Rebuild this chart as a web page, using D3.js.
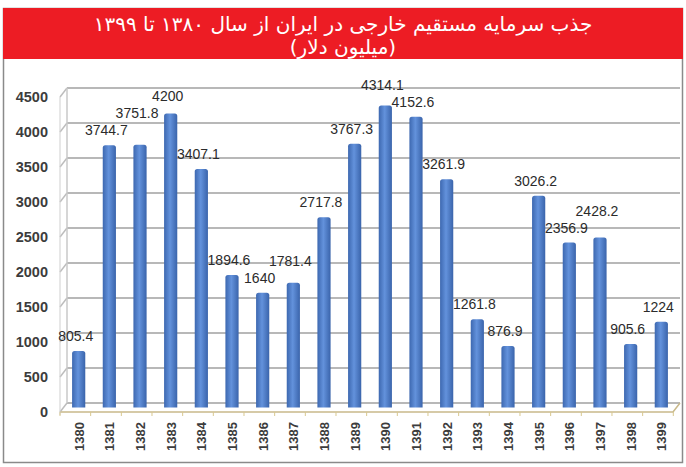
<!DOCTYPE html>
<html>
<head>
<meta charset="utf-8">
<script src="https://d3js.org/d3.v7.min.js"></script>
<style>
  body { margin: 0; background: #fff; }
  svg { display: block; }
</style>
</head>
<body>
<svg width="686" height="467"></svg>
<script>
var years = ["1380","1381","1382","1383","1384","1385","1386","1387","1388","1389",
             "1390","1391","1392","1393","1394","1395","1396","1397","1398","1399"]
var values = [805.4, 3744.7, 3751.8, 4200, 3407.1, 1894.6, 1640, 1781.4, 2717.8, 3767.3,
              4314.1, 4152.6, 3261.9, 1261.8, 876.9, 3026.2, 2356.9, 2428.2, 905.6, 1224]
var yTicks = [0, 500, 1000, 1500, 2000, 2500, 3000, 3500, 4000, 4500]
var title1 = "جذب سرمایه مستقیم خارجی در ایران از سال ۱۳۸۰ تا ۱۳۹۹"
var title2 = "(میلیون دلار)"

var svg = d3.select('svg')

// depth offset of the 3D look
var dx = 7, dy = 9

// back wall scales
var x = d3.scaleBand().domain(years).range([67, 680]).paddingInner(0.57).paddingOuter(0.28)
var y = d3.scaleLinear().domain([0, 4500]).range([403, 88])

// bar gradient (cylinder-ish)
var defs = svg.append('defs')
var grad = defs.append('linearGradient').attr('id', 'barGrad')
  .attr('x1', '0%').attr('x2', '100%').attr('y1', '0%').attr('y2', '0%')
grad.append('stop').attr('offset', '0%').attr('stop-color', '#3d68b0')
grad.append('stop').attr('offset', '45%').attr('stop-color', '#6392dc')
grad.append('stop').attr('offset', '100%').attr('stop-color', '#3a64ab')

// frame
svg.append('rect')
  .attr('x', 3.5).attr('y', 8.5).attr('width', 679).attr('height', 454)
  .attr('fill', '#fff').attr('stroke', '#8a8a8a').attr('stroke-width', 1.5)

// red title banner
svg.append('rect')
  .attr('x', 3).attr('y', 8).attr('width', 680).attr('height', 51)
  .attr('fill', '#ed1c24')

svg.append('text')
  .attr('x', 343).attr('y', 31)
  .attr('text-anchor', 'middle')
  .attr('direction', 'rtl')
  .style('font-family', '"DejaVu Sans", sans-serif')
  .style('font-size', '20px')
  .attr('fill', '#fff')
  .text(title1)

svg.append('text')
  .attr('x', 343).attr('y', 54)
  .attr('text-anchor', 'middle')
  .attr('direction', 'rtl')
  .style('font-family', '"DejaVu Sans", sans-serif')
  .style('font-size', '20px')
  .attr('fill', '#fff')
  .text(title2)

// gridlines on back wall plus side wall diagonals
var grid = svg.append('g')
grid.selectAll('line.h').data(yTicks).join('line')
  .attr('x1', 67).attr('x2', 680)
  .attr('y1', d => y(d)).attr('y2', d => y(d))
  .attr('stroke', '#b8b8b8').attr('stroke-width', 2)
grid.selectAll('line.d').data(yTicks).join('line')
  .attr('x1', 67 - dx).attr('x2', 67)
  .attr('y1', d => y(d) + dy).attr('y2', d => y(d))
  .attr('stroke', '#bdbdbd').attr('stroke-width', 1.5)
grid.append('line')
  .attr('x1', 67).attr('x2', 67).attr('y1', y(4500)).attr('y2', y(0))
  .attr('stroke', '#c8c8c8').attr('stroke-width', 1.5)

// floor
svg.append('path')
  .attr('d', 'M' + (67 - dx) + ',' + (y(0) + dy) + 'L' + (680 - dx) + ',' + (y(0) + dy) +
             'L680,' + y(0))
  .attr('fill', 'none').attr('stroke', '#c9b98a').attr('stroke-width', 1.5)
svg.append('line')
  .attr('x1', 67 - dx).attr('x2', 67 - dx).attr('y1', y(4500) + dy).attr('y2', y(0) + dy + 3)
  .attr('stroke', '#cfcfcf').attr('stroke-width', 1)

// x ticks on the floor front edge
svg.append('g').selectAll('line').data(years.concat(['end'])).join('line')
  .attr('x1', (d, i) => 67 - dx + i * x.step())
  .attr('x2', (d, i) => 67 - dx + i * x.step())
  .attr('y1', y(0) + dy).attr('y2', y(0) + dy + 4)
  .attr('stroke', '#d8c890').attr('stroke-width', 1)

// y axis labels
var yFront = d3.scaleLinear().domain([0, 4500]).range([y(0) + dy, y(4500) + dy])
var yAxis = svg.append('g')
  .attr('transform', 'translate(' + (67 - dx) + ',0)')
  .call(d3.axisLeft(yFront).tickValues(yTicks).tickSize(0).tickPadding(12).tickFormat(d3.format('d')))
yAxis.select('.domain').remove()
yAxis.selectAll('text')
  .style('font-family', '"Liberation Sans", Arial, sans-serif')
  .style('font-size', '14.5px').style('font-weight', 'bold')
  .attr('fill', '#3c3c3c')

// bars, sitting at mid depth
var bx = -dx / 2, by = dy / 2
svg.append('g').selectAll('path').data(values).join('path')
  .attr('d', function(d, i) {
    var x0 = x(years[i]) + bx, w = x.bandwidth()
    var top = y(d) + by, bot = y(0) + by, r = 2.5
    return 'M' + x0 + ',' + bot + 'L' + x0 + ',' + (top + r) +
           'Q' + x0 + ',' + top + ' ' + (x0 + r) + ',' + top +
           'L' + (x0 + w - r) + ',' + top +
           'Q' + (x0 + w) + ',' + top + ' ' + (x0 + w) + ',' + (top + r) +
           'L' + (x0 + w) + ',' + bot + 'Z'
  })
  .attr('fill', 'url(#barGrad)')

// value labels
var labels = svg.append('g').selectAll('text').data(values).join('text')
  .attr('x', (d, i) => x(years[i]) + bx + x.bandwidth() / 2 - 3)
  .attr('y', d => y(d) + by - 10)
  .attr('text-anchor', 'middle')
  .style('font-family', '"Liberation Sans", Arial, sans-serif')
  .style('font-size', '14px')
  .attr('fill', '#2b2b2b')
  .text(d => d)

// when two neighbour labels collide, lift the one over the taller bar
var nodes = labels.nodes()
for (var i = 1; i < nodes.length; i++) {
  var a = nodes[i - 1].getBBox(), b = nodes[i].getBBox()
  if (b.x < a.x + a.width && b.y < a.y + a.height && b.y + b.height > a.y) {
    var up = values[i] > values[i - 1] ? nodes[i] : nodes[i - 1]
    var other = up === nodes[i] ? a : b
    var mine = up === nodes[i] ? b : a
    var shift = (mine.y + mine.height) - other.y + 1
    d3.select(up).attr('y', +d3.select(up).attr('y') - shift)
  }
}

// x labels, rotated
svg.append('g').selectAll('text').data(years).join('text')
  .attr('transform', (d, i) => 'translate(' + (x(d) + bx + x.bandwidth() / 2 + 5) + ',' + (y(0) + dy + 10) + ') rotate(-90)')
  .attr('text-anchor', 'end')
  .style('font-family', '"Liberation Sans", Arial, sans-serif')
  .style('font-size', '13px').style('font-weight', 'bold')
  .attr('fill', '#3c3c3c')
  .text(d => d)
</script>
</body>
</html>
